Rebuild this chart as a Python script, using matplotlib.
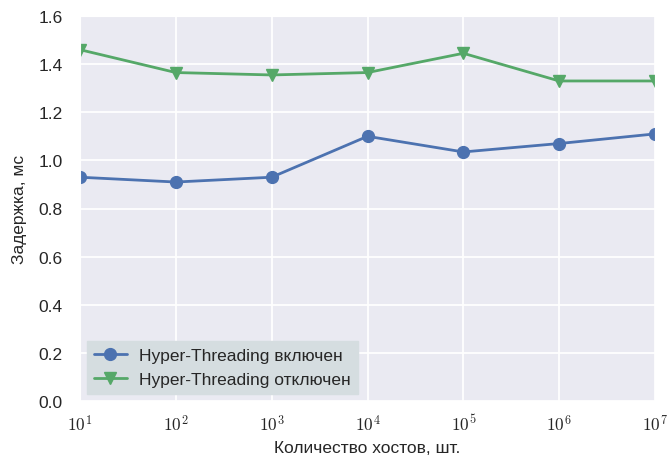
import numpy as np
import matplotlib
matplotlib.use('Agg')
import matplotlib.pyplot as plt
import seaborn as sns

# hosts count (log scale) and latency, ms
hosts = [1e1, 1e2, 1e3, 1e4, 1e5, 1e6, 1e7]
ht_on = [0.93, 0.91, 0.93, 1.10, 1.035, 1.07, 1.11]
ht_off = [1.46, 1.365, 1.355, 1.365, 1.445, 1.33, 1.33]

sns.set_style('darkgrid')
plt.rcParams['font.family'] = ['Liberation Sans', 'DejaVu Sans']
plt.rcParams['mathtext.fontset'] = 'cm'

fig = plt.figure(figsize=(6.67, 4.64), dpi=100)
ax = fig.add_axes([80 / 667, 1 - 402 / 464, 575 / 667, 385 / 464])
ax.grid(True, color='white', linewidth=1.3)

ax.plot(hosts, ht_on, color='#4C72B0', marker='o', markersize=8.5, linewidth=2,
        label='Hyper-Threading включен')
ax.plot(hosts, ht_off, color='#55A868', marker='v', markersize=8.5, linewidth=2,
        label='Hyper-Threading отключен')

ax.set_xscale('log')
ax.set_xlim(1e1, 1e7)
ax.set_ylim(0, 1.6)
ax.set_xticks(hosts)
ax.set_xticklabels([r'$10^{%d}$' % i for i in range(1, 8)])
ax.minorticks_off()
ax.tick_params(axis='y', labelsize=12.5, colors='#262626', pad=9)
ax.tick_params(axis='x', labelsize=12.5, colors='#262626', pad=5)
ax.set_xlabel('Количество хостов, шт.', fontsize=12.5, color='#262626', labelpad=5)
ax.set_ylabel('Задержка, мс', fontsize=12.5, color='#262626', labelpad=8)

leg = ax.legend(loc='lower left', frameon=True, fontsize=12.5, facecolor='#D5DDE0',
                edgecolor='#D5DDE0', framealpha=1.0, fancybox=False,
                handlelength=1.9, handletextpad=0.7, borderaxespad=0.4)

fig.savefig('out.png', dpi=100)
